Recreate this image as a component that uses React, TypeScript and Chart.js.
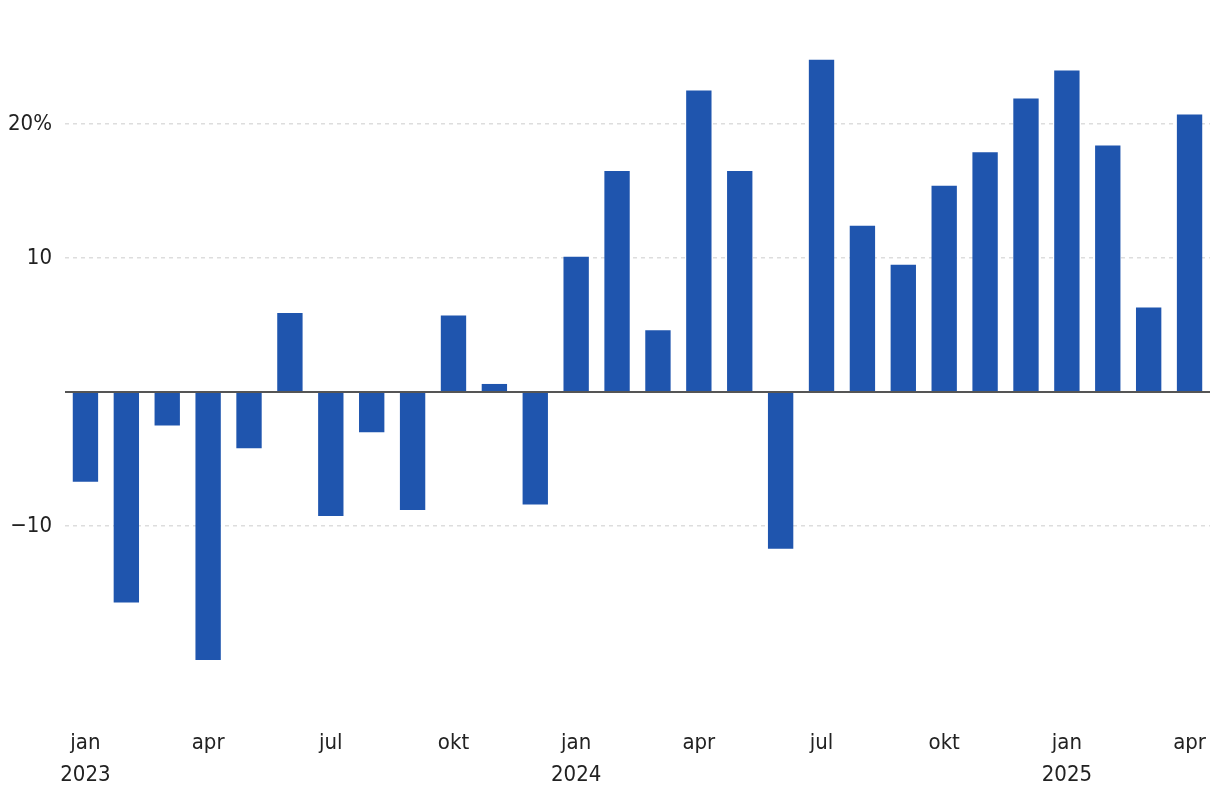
import React, { useEffect, useRef } from "react";
import { Chart, registerables } from "chart.js";

Chart.register(...registerables);

const months = ["jan","feb","mar","apr","maj","jun","jul","aug","sep","okt","nov","dec"];
const years = ["2023", "2024", "2025"];
const categories: string[] = [];
for (let i = 0; i < 28; i++) categories.push(months[i % 12] + " " + years[Math.floor(i / 12)]);

const values = [
  -6.7, -15.7, -2.5, -20.0, -4.2, 5.9, -9.25, -3.0, -8.8, 5.7, 0.6, -8.4,
  10.1, 16.5, 4.6, 22.5, 16.5, -11.7, 24.8, 12.4, 9.5, 15.4, 17.9, 21.9,
  24.0, 18.4, 6.3, 20.7,
];

const yTicks = [-10, 0, 10, 20];

const FONT = "'Liberation Sans Narrow', 'DejaVu Sans Condensed', 'Roboto', sans-serif";

export default function App() {
  const ref = useRef<HTMLCanvasElement | null>(null);
  useEffect(() => {
    if (!ref.current) return;
    const zeroLine = {
      id: "zeroLine",
      afterDatasetsDraw(chart: any) {
        const { ctx, chartArea, scales } = chart;
        const y = scales.y.getPixelForValue(0);
        ctx.save();
        ctx.strokeStyle = "#555555";
        ctx.lineWidth = 2;
        ctx.beginPath();
        ctx.moveTo(chartArea.left, y);
        ctx.lineTo(chartArea.right, y);
        ctx.stroke();
        ctx.restore();
      },
    };
    const chart = new Chart(ref.current, {
      type: "bar",
      data: {
        labels: categories,
        datasets: [
          {
            data: values,
            backgroundColor: "#1f55ae",
            barPercentage: 0.62,
            categoryPercentage: 1,
          },
        ],
      },
      options: {
        animation: false,
        responsive: true,
        maintainAspectRatio: false,
        layout: { padding: { top: 57, right: 10, left: 0, bottom: 0 } },
        plugins: { legend: { display: false }, tooltip: { enabled: false } },
        scales: {
          x: {
            grid: { display: false, drawTicks: false },
            border: { display: false },
            ticks: {
              autoSkip: false,
              maxRotation: 0,
              minRotation: 0,
              padding: 0,
              color: "#222222",
              font: { family: FONT, size: 22, lineHeight: 1.45 },
              callback: (_v: any, i: number) => {
                if (i % 3 !== 0) return "";
                const m = months[i % 12];
                if (m === "jan") return [m, years[Math.floor(i / 12)]];
                return m;
              },
            },
            afterFit: (s: any) => {
              s.height = 83;
            },
          },
          y: {
            min: -25,
            max: 25,
            afterBuildTicks: (s: any) => {
              s.ticks = yTicks.map((v) => ({ value: v }));
            },
            grid: {
              drawTicks: false,
              color: (c: any) => (c.tick && c.tick.value === 0 ? "rgba(0,0,0,0)" : "#dddddd"),
              lineWidth: 1.5,
            },
            border: { display: false, dash: [4, 4] },
            ticks: {
              padding: 13,
              color: "#222222",
              font: { family: FONT, size: 22 },
              callback: (v: any) => {
                if (v === 0) return "";
                if (v === 20) return "20%";
                if (v < 0) return "\u2212" + Math.abs(v);
                return String(v);
              },
            },
            afterFit: (s: any) => {
              s.width = 65;
            },
          },
        },
      },
      plugins: [zeroLine],
    });
    return () => chart.destroy();
  }, []);
  return (
    <div style={{ position: "absolute", left: 0, top: 0, width: 1220, height: 810, background: "#fff" }}>
      <canvas ref={ref} />
    </div>
  );
}
